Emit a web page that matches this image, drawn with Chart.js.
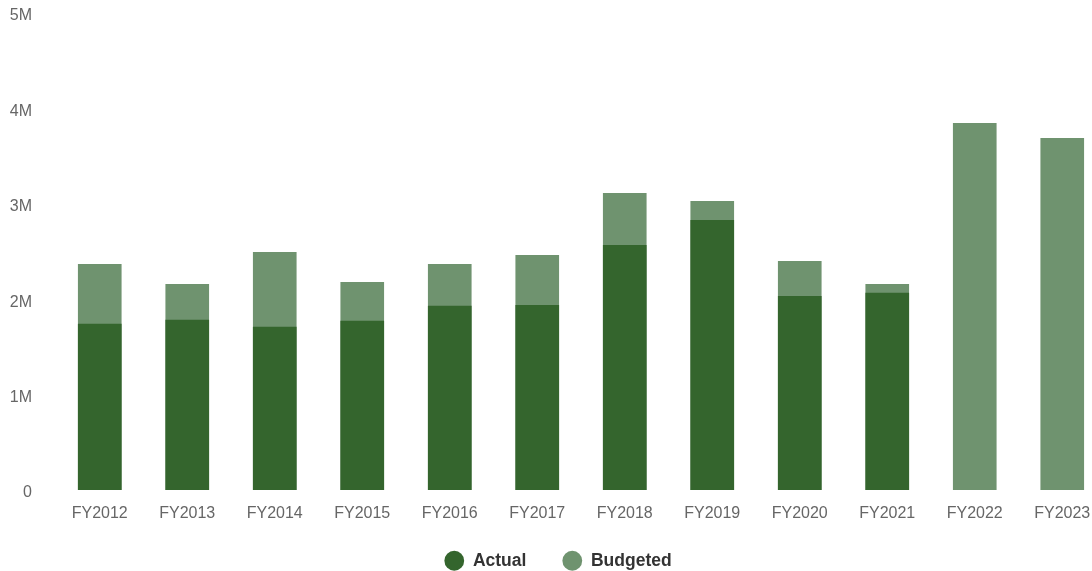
<!DOCTYPE html>
<html><head><meta charset="utf-8">
<script src="https://cdn.jsdelivr.net/npm/chart.js@4"></script>
<style>html,body{margin:0;padding:0;overflow:hidden;background:#fff}#wrap{width:1106px;height:571px;position:relative}</style>
</head><body><div id="wrap"><canvas id="c"></canvas></div>
<script>
const categories = ["FY2012","FY2013","FY2014","FY2015","FY2016","FY2017","FY2018","FY2019","FY2020","FY2021","FY2022","FY2023"];
const actual = [1738000,1780000,1707000,1770000,1927000,1937000,2565000,2827000,2031000,2063000,null,null];
const budgeted = [2366000,2157000,2492000,2178000,2366000,2461000,3110000,3026000,2398000,2157000,3843000,3686000];
const yTicks = [0,1000000,2000000,3000000,4000000,5000000];
const yTickLabels = ["0","1M","2M","3M","4M","5M"];

const legendFix = {
  id:'legendFix',
  afterInit(chart){
    const l = chart.legend;
    if(!l) return;
    const f = l.fit;
    l.fit = function(){ f.call(this); this.height = 49; };
  },
  afterLayout(chart){
    const l = chart.legend;
    if(!l) return;
    l.left += 5; l.right += 5;
    l.top = 516; l.bottom = 571; l.height = 55;
  }
};

new Chart(document.getElementById('c'), {
  type: 'bar',
  data: {
    labels: categories,
    datasets: [
      {label:'Actual', data: actual, backgroundColor:'#34652d', barThickness:43},
      {label:'Budgeted', data: budgeted, backgroundColor:'#6f936f', barThickness:43}
    ]
  },
  options: {
    responsive:true, maintainAspectRatio:false, animation:false,
    layout:{padding:{top:13,left:0,right:0,bottom:0}},
    plugins:{
      tooltip:{enabled:false},
      legend:{position:'bottom', labels:{usePointStyle:true, pointStyle:'circle', pointStyleWidth:19.8, boxWidth:19.8, boxHeight:14, padding:36, color:'#333', font:{family:'Liberation Sans', size:17.5, weight:'bold'}}}
    },
    scales:{
      x:{stacked:true, grid:{display:false, drawTicks:false}, border:{display:false},
         afterFit:(s)=>{s.height = 32;},
         ticks:{padding:14, color:'#666', font:{family:'Liberation Sans', size:16}}},
      y:{stacked:false, min:0, max:5000000, grid:{display:false, drawTicks:false}, border:{display:false},
         afterFit:(s)=>{s.width = 56; s.paddingTop = 9; s.paddingBottom = 9;},
         afterBuildTicks:(s)=>{s.ticks = yTicks.map(v=>({value:v}));},
         ticks:{padding:24, labelOffset:3, color:'#666', font:{family:'Liberation Sans', size:16}, callback:(v)=>yTickLabels[yTicks.indexOf(v)]}}
    }
  },
  plugins:[legendFix]
});
</script></body></html>
